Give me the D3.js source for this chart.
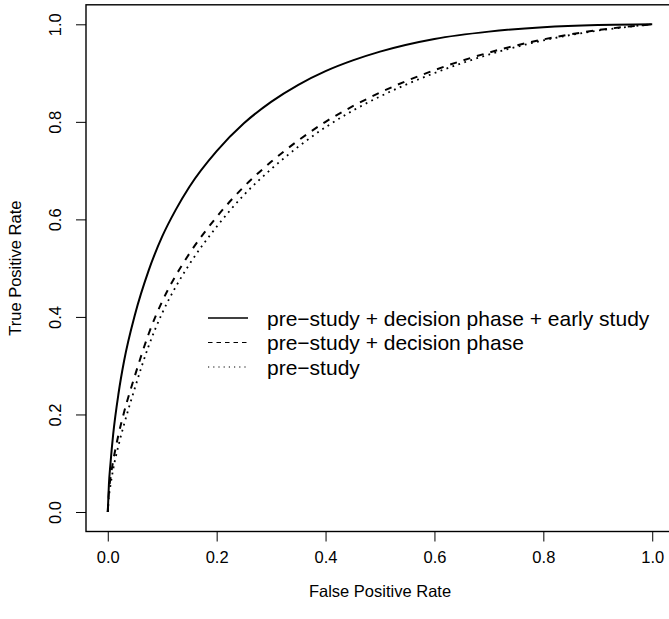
<!DOCTYPE html>
<html>
<head>
<meta charset="utf-8">
<script src="https://cdn.jsdelivr.net/npm/d3@7"></script>
<style>
  html, body { margin: 0; padding: 0; background: #fff; }
  svg { display: block; font-family: "Liberation Sans", Arial, Helvetica, sans-serif; }
</style>
</head>
<body>
<svg id="chart" width="669" height="619"></svg>
<script>
// ---- data ----
const fpr = [0, 0.002, 0.005, 0.01, 0.02, 0.03, 0.05, 0.075, 0.1, 0.125, 0.15, 0.2, 0.25, 0.3, 0.35, 0.4, 0.45, 0.5, 0.6, 0.7, 0.8, 0.9, 1.0];
const tprFull = [0, 0.055, 0.10, 0.16, 0.245, 0.31, 0.405, 0.495, 0.565, 0.62, 0.667, 0.74, 0.797, 0.841, 0.876, 0.904, 0.926, 0.944, 0.970, 0.985, 0.994, 0.9985, 1.0];
const tprDecision = [0, 0.04, 0.07, 0.105, 0.16, 0.205, 0.28, 0.365, 0.432, 0.485, 0.53, 0.605, 0.667, 0.718, 0.762, 0.80, 0.832, 0.86, 0.906, 0.942, 0.969, 0.988, 1.0];
const tprPre = [0, 0.03, 0.055, 0.088, 0.138, 0.18, 0.255, 0.34, 0.408, 0.462, 0.508, 0.585, 0.65, 0.703, 0.749, 0.789, 0.823, 0.852, 0.90, 0.938, 0.967, 0.987, 1.0];
const seriesNames = ["pre\u2212study + decision phase + early study", "pre\u2212study + decision phase", "pre\u2212study"];
const xTicks = [0, 0.2, 0.4, 0.6, 0.8, 1.0];
const yTicks = [0, 0.2, 0.4, 0.6, 0.8, 1.0];
const xTitle = "False Positive Rate";
const yTitle = "True Positive Rate";

// ---- layout ----
const svg = d3.select("#chart");
const pL = 86, pR = 674, pT = 4.8, pB = 531.5;
const x = d3.scaleLinear().domain([-0.04, 1.04]).range([pL, pR]);
const y = d3.scaleLinear().domain([-0.04, 1.04]).range([pB, pT]);
const FONT = '"Liberation Sans", Arial, sans-serif';

const styles = [
  { dash: null, width: 2, legDash: null, legWidth: 1.3 },
  { dash: "7,7", width: 2, legDash: "4.5,4", legWidth: 1.1 },
  { dash: "1.8,4.5", width: 1.8, legDash: "1.2,4", legWidth: 1.1 }
];
const series = [tprFull, tprDecision, tprPre];

const line = d3.line()
  .x((d, i) => x(fpr[i]))
  .y(d => y(d))
  .curve(d3.curveMonotoneX);

series.forEach((s, k) => {
  svg.append("path")
    .attr("d", line(s))
    .attr("fill", "none")
    .attr("stroke", "#000")
    .attr("stroke-width", styles[k].width)
    .attr("stroke-dasharray", styles[k].dash)
    .attr("stroke-linejoin", "round");
});

// box
svg.append("rect")
  .attr("x", pL).attr("y", pT)
  .attr("width", pR - pL).attr("height", pB - pT)
  .attr("fill", "none").attr("stroke", "#000").attr("stroke-width", 1.4);

// x axis
const xAxis = d3.axisBottom(x).tickValues(xTicks).tickFormat(d3.format(".1f")).tickSize(10).tickPadding(10);
const gx = svg.append("g").attr("transform", `translate(0,${pB})`).call(xAxis);
gx.select(".domain").remove();
gx.selectAll("line").attr("stroke", "#000").attr("stroke-width", 1);
gx.selectAll("text").attr("font-size", "16.5px").attr("fill", "#000").attr("font-family", FONT);

// y axis
const yAxis = d3.axisLeft(y).tickValues(yTicks).tickFormat(d3.format(".1f")).tickSize(10);
const gy = svg.append("g").attr("transform", `translate(${pL},0)`).call(yAxis);
gy.select(".domain").remove();
gy.selectAll("line").attr("stroke", "#000").attr("stroke-width", 1);
gy.selectAll(".tick text")
  .attr("font-size", "16.5px").attr("fill", "#000").attr("font-family", FONT)
  .attr("x", 0).attr("y", 0).attr("dy", null)
  .attr("text-anchor", "middle")
  .attr("dominant-baseline", "central")
  .attr("transform", "translate(-31,0) rotate(-90)");

// axis titles
svg.append("text")
  .attr("x", (pL + pR) / 2).attr("y", 591)
  .attr("text-anchor", "middle").attr("dominant-baseline", "central")
  .attr("font-size", "16.5px").attr("font-family", FONT).text(xTitle);
svg.append("text")
  .attr("transform", `translate(15,${(pT + pB) / 2}) rotate(-90)`)
  .attr("text-anchor", "middle").attr("dominant-baseline", "central")
  .attr("font-size", "16.5px").attr("font-family", FONT).text(yTitle);

// legend
const legY0 = 318, legDy = 24.5;
seriesNames.forEach((name, k) => {
  const yy = legY0 + k * legDy;
  svg.append("line")
    .attr("x1", 208).attr("x2", 248).attr("y1", yy).attr("y2", yy)
    .attr("stroke", "#000").attr("stroke-width", styles[k].legWidth)
    .attr("stroke-dasharray", styles[k].legDash);
  svg.append("text")
    .attr("x", 267).attr("y", yy)
    .attr("dominant-baseline", "central")
    .attr("font-size", "21px").attr("font-family", FONT).text(name);
});
</script>
</body>
</html>
